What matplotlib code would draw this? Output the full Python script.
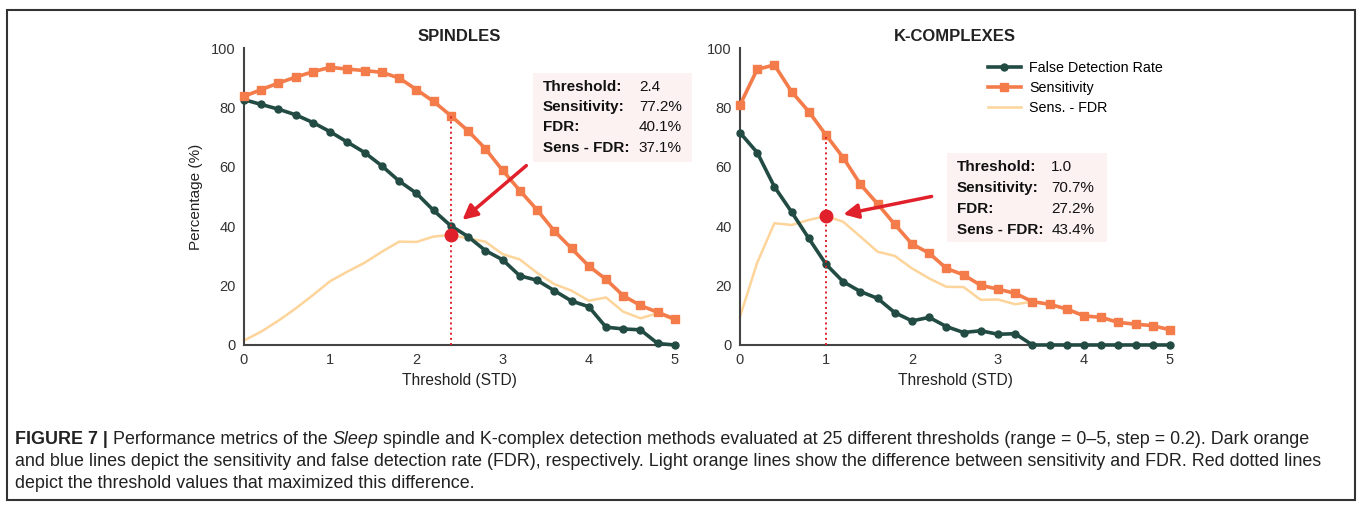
import matplotlib.pyplot as plt
from matplotlib.patches import Rectangle
from matplotlib.lines import Line2D

thresholds = [0, 0.2, 0.4, 0.6, 0.8, 1.0, 1.2, 1.4, 1.6, 1.8, 2.0, 2.2, 2.4,
              2.6, 2.8, 3.0, 3.2, 3.4, 3.6, 3.8, 4.0, 4.2, 4.4, 4.6, 4.8, 5.0]

sp_fdr = [82.6, 81.0, 79.4, 77.5, 74.9, 71.8, 68.3, 64.8, 60.3, 55.2, 51.1, 45.3, 40.1,
          36.5, 31.8, 28.7, 23.3, 21.8, 18.3, 14.8, 12.9, 6.0, 5.4, 5.1, 0.5, 0.0]
sp_sens = [83.7, 86.0, 88.2, 90.2, 92.0, 93.5, 92.9, 92.4, 91.8, 89.9, 86.0, 82.0, 77.2,
           72.1, 66.1, 58.8, 52.0, 45.5, 38.4, 32.5, 26.6, 22.1, 16.6, 13.3, 11.0, 8.7]
sp_diff = [1.5, 4.5, 8.2, 12.3, 16.8, 21.5, 24.7, 27.7, 31.4, 34.8, 34.7, 36.5, 37.1,
           35.9, 34.8, 30.6, 28.8, 24.3, 20.5, 18.3, 14.9, 16.0, 11.2, 9.0, 10.7, 8.2]

kc_fdr = [71.5, 64.8, 53.3, 44.8, 35.9, 27.2, 21.3, 18.0, 15.7, 10.9, 8.1, 9.3, 6.2,
          4.2, 4.8, 3.6, 3.8, 0.0, 0.0, 0.0, 0.0, 0.0, 0.0, 0.0, 0.0, 0.0]
kc_sens = [80.8, 92.8, 94.3, 85.3, 78.6, 70.7, 63.1, 54.1, 47.5, 40.6, 34.0, 30.9, 25.8,
           23.6, 20.1, 18.8, 17.4, 14.6, 13.7, 12.1, 9.8, 9.3, 7.6, 7.0, 6.5, 5.1]
kc_diff = [9.5, 27.7, 41.0, 40.4, 42.1, 43.4, 41.5, 36.5, 31.4, 30.0, 25.8, 22.4, 19.6,
           19.5, 15.2, 15.3, 13.7, 14.6, 13.7, 12.1, 9.8, 9.3, 7.6, 7.0, 6.5, 5.1]

panels = [
    {'title': 'SPINDLES', 'fdr': sp_fdr, 'sens': sp_sens, 'diff': sp_diff,
     'best': 2.4, 'best_sens': 77.2, 'best_diff': 37.1,
     'info': [('Threshold:', '2.4'), ('Sensitivity:', '77.2%'), ('FDR:', '40.1%'), ('Sens - FDR:', '37.1%')],
     'arrow_from': (3.30, 61.0), 'arrow_to': (2.51, 41.5),
     'box': (3.35, 61.7, 1.85, 30.0), 'text_x': (3.47, 4.58), 'rows': [86.9, 80.1, 73.4, 66.3]},
    {'title': 'K-COMPLEXES', 'fdr': kc_fdr, 'sens': kc_sens, 'diff': kc_diff,
     'best': 1.0, 'best_sens': 70.7, 'best_diff': 43.4,
     'info': [('Threshold:', '1.0'), ('Sensitivity:', '70.7%'), ('FDR:', '27.2%'), ('Sens - FDR:', '43.4%')],
     'arrow_from': (2.26, 50.2), 'arrow_to': (1.17, 43.8),
     'box': (2.41, 34.8, 1.86, 29.9), 'text_x': (2.52, 3.62), 'rows': [59.8, 52.8, 45.7, 38.7]},
]

dark = '#224b44'
orange = '#f47b4a'
light = '#fdd49a'
red = '#e0202a'
font = 'Liberation Sans'

fig = plt.figure(figsize=(13.6, 5.08), dpi=100)
fig.patches.append(Rectangle((7 / 1360, 1 - 500 / 508), 1348 / 1360, 490 / 508,
                             transform=fig.transFigure, fill=False, edgecolor='#333333', linewidth=1.5))

axes = [fig.add_axes([0.1794, 0.3209, 0.3169, 0.5846]),
        fig.add_axes([0.5441, 0.3209, 0.3162, 0.5846])]

for ax, p in zip(axes, panels):
    ax.plot(thresholds, p['diff'], color=light, lw=1.8, clip_on=False, zorder=2)
    ax.plot(thresholds, p['fdr'], color=dark, lw=2.6, marker='o', ms=5, clip_on=False, zorder=3)
    ax.plot(thresholds, p['sens'], color=orange, lw=2.6, marker='s', ms=6, clip_on=False, zorder=3)
    ax.plot([p['best'], p['best']], [0, p['best_sens']], color=red, lw=1.4, ls=':', zorder=4)
    ax.plot([p['best']], [p['best_diff']], 'o', color=red, ms=9, zorder=5)
    ax.annotate('', xy=p['arrow_to'], xytext=p['arrow_from'],
                arrowprops=dict(arrowstyle='-|>', color=red, lw=2.5, mutation_scale=22), zorder=5)
    bx, by, bw, bh = p['box']
    ax.add_patch(Rectangle((bx, by), bw, bh, facecolor='#fdf2f2', edgecolor='none', clip_on=False, zorder=1))
    for (lab, val), ry in zip(p['info'], p['rows']):
        ax.text(p['text_x'][0], ry, lab, fontsize=11, fontweight='bold', family=font, va='center', color='#111111')
        ax.text(p['text_x'][1], ry, val, fontsize=11, family=font, va='center', color='#111111')
    ax.set_xlim(0, 5)
    ax.set_ylim(0, 100)
    ax.set_xticks([0, 1, 2, 3, 4, 5])
    ax.set_yticks([0, 20, 40, 60, 80, 100])
    ax.tick_params(length=0, labelsize=10.5, colors='#333333', pad=6)
    for lbl in ax.get_xticklabels() + ax.get_yticklabels():
        lbl.set_family(font)
    for s in ['top', 'right']:
        ax.spines[s].set_visible(False)
    for s in ['left', 'bottom']:
        ax.spines[s].set_color('#444444')
        ax.spines[s].set_linewidth(1.5)
    ax.set_xlabel('Threshold (STD)', fontsize=11.2, family=font, color='#222222', labelpad=4)
    ax.set_title(p['title'], fontsize=12, fontweight='bold', family=font, color='#222222', pad=5)

axes[0].set_ylabel('Percentage (%)', fontsize=11, family=font, color='#222222', labelpad=6)

handles = [Line2D([], [], color=dark, lw=2.6, marker='o', ms=5),
           Line2D([], [], color=orange, lw=2.6, marker='s', ms=6),
           Line2D([], [], color=light, lw=1.8)]
fig.legend(handles, ['False Detection Rate', 'Sensitivity', 'Sens. - FDR'], loc='upper left',
           bbox_to_anchor=(0.717, 0.905), frameon=False, prop={'family': font, 'size': 10.3},
           handlelength=2.3, handletextpad=0.6, labelspacing=0.42)

# caption, built piece by piece so bold / italic runs line up
cap_size = 12.9
lines = [
    [('FIGURE 7 | ', 'bold', 'normal'), ('Performance metrics of the ', 'normal', 'normal'),
     ('Sleep', 'normal', 'italic'),
     (' spindle and K-complex detection methods evaluated at 25 different thresholds (range = 0\u20135, step = 0.2). Dark orange',
      'normal', 'normal')],
    [('and blue lines depict the sensitivity and false detection rate (FDR), respectively. Light orange lines show the difference between sensitivity and FDR. Red dotted lines',
      'normal', 'normal')],
    [('depict the threshold values that maximized this difference.', 'normal', 'normal')],
]
line_y = [439, 461, 483]
fig.canvas.draw()
renderer = fig.canvas.get_renderer()
for parts, py in zip(lines, line_y):
    x = 15 / 1360
    for txt, weight, style in parts:
        t = fig.text(x, 1 - py / 508, txt, fontsize=cap_size, family=font, fontweight=weight,
                     fontstyle=style, va='center', ha='left', color='#222222')
        bb = t.get_window_extent(renderer)
        x += bb.width / fig.bbox.width

fig.savefig('out.png', dpi=100)
